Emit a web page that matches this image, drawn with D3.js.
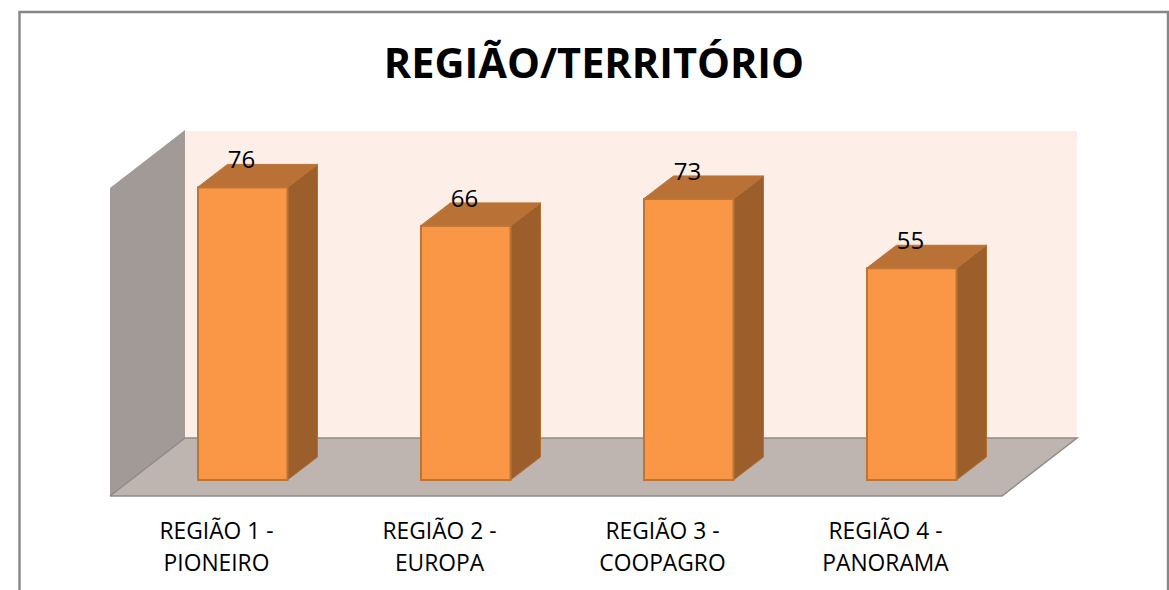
<!DOCTYPE html>
<html><head><meta charset="utf-8">
<script src="https://cdn.jsdelivr.net/npm/d3@7"></script>
<style>html,body{margin:0;padding:0;background:#fff}svg{display:block}</style>
</head><body><svg id="c" width="1169" height="590"></svg>
<script>
const chartTitle = "REGIÃO/TERRITÓRIO";
const categories = ["REGIÃO 1 - PIONEIRO","REGIÃO 2 - EUROPA","REGIÃO 3 - COOPAGRO","REGIÃO 4 - PANORAMA"];
const labelLines = [["REGIÃO 1 -","PIONEIRO"],["REGIÃO 2 -","EUROPA"],["REGIÃO 3 -","COOPAGRO"],["REGIÃO 4 -","PANORAMA"]];
const values = [76,66,73,55];
const axisMax = 80;

const svg = d3.select("#c");
const font = "'Open Sans',sans-serif";
// frame
svg.append("path").attr("d","M19.5,590V12H1168V590").attr("fill","none").attr("stroke","#868686").attr("stroke-width",2.4);

// 3D layout
const floorFront = {l:110,r:1002,y:496};
const dep = {x:75,y:-58};
const barOff = {x:21,y:-16};
const barDep = {x:30,y:-23};
const y = d3.scaleLinear().domain([0,axisMax]).range([floorFront.y+barOff.y, floorFront.y+barOff.y-308]);
const x = d3.scaleBand().domain(categories).range([floorFront.l+barOff.x,floorFront.r+barOff.x]).paddingInner(1-90/223).paddingOuter((1-90/223)/2);
const xLabel = d3.scaleBand().domain(categories).range([floorFront.l-5,floorFront.r-5]);
const wallTop = y(axisMax)+16;
const poly = p=>"M"+p.map(a=>a.join(",")).join("L")+"Z";

// back wall
svg.append("rect").attr("x",floorFront.l+dep.x).attr("y",wallTop+dep.y+1).attr("width",floorFront.r-floorFront.l).attr("height",floorFront.y-wallTop-1).attr("fill","#fdeee7");
// side wall
svg.append("path").attr("d",poly([[floorFront.l,wallTop],[floorFront.l+dep.x,wallTop+dep.y],[floorFront.l+dep.x,floorFront.y+dep.y],[floorFront.l,floorFront.y]])).attr("fill","#a29a96");
// floor
svg.append("path").attr("d",poly([[floorFront.l,floorFront.y],[floorFront.l+dep.x,floorFront.y+dep.y],[floorFront.r+dep.x,floorFront.y+dep.y],[floorFront.r,floorFront.y]])).attr("fill","#beb4b0");
svg.append("path").attr("d",`M${floorFront.l},${floorFront.y}L${floorFront.r},${floorFront.y}L${floorFront.r+dep.x},${floorFront.y+dep.y}L${floorFront.l+dep.x},${floorFront.y+dep.y}L${floorFront.l},${floorFront.y}`).attr("fill","none").attr("stroke","#8f8a88").attr("stroke-width",1.5);

// bars
const bars = svg.selectAll("g.bar").data(categories.map((c,i)=>({c,v:values[i]}))).join("g").attr("class","bar");
bars.append("path").attr("d",d=>{const l=x(d.c),r=l+x.bandwidth(),t=y(d.v),b=y(0);return poly([[r,t],[r+barDep.x,t+barDep.y],[r+barDep.x,b+barDep.y],[r,b]]);}).attr("fill","#9c5f2c").attr("stroke","#b4702f").attr("stroke-width",1);
bars.append("path").attr("d",d=>{const l=x(d.c),r=l+x.bandwidth(),t=y(d.v);return poly([[l,t],[l+barDep.x,t+barDep.y],[r+barDep.x,t+barDep.y],[r,t]]);}).attr("fill","#b97136").attr("stroke","#b97136").attr("stroke-width",1);
bars.append("rect").attr("x",d=>x(d.c)+0.5).attr("y",d=>y(d.v)).attr("width",x.bandwidth()-0.5).attr("height",d=>y(0)-y(d.v)).attr("fill","#fa9746").attr("stroke","#bc7437").attr("stroke-width",2);
bars.append("text").attr("x",d=>x(d.c)+x.bandwidth()/2-1).attr("y",d=>y(d.v)-19).attr("text-anchor","middle").attr("font-family",font).attr("font-size",24).attr("fill","#000").text(d=>d.v);

// category labels
labelLines.forEach((ls,i)=>{
  const cx = xLabel(categories[i])+xLabel.bandwidth()/2;
  ls.forEach((t,j)=>svg.append("text").attr("x",cx).attr("y",539+j*32).attr("text-anchor","middle").attr("font-family",font).attr("font-size",22.8).attr("fill","#000").text(t));
});
// title
svg.append("text").attr("x",594).attr("y",78).attr("text-anchor","middle").attr("font-family",font).attr("font-weight",700).attr("font-size",41.5).attr("fill","#000").text(chartTitle);
</script></body></html>
